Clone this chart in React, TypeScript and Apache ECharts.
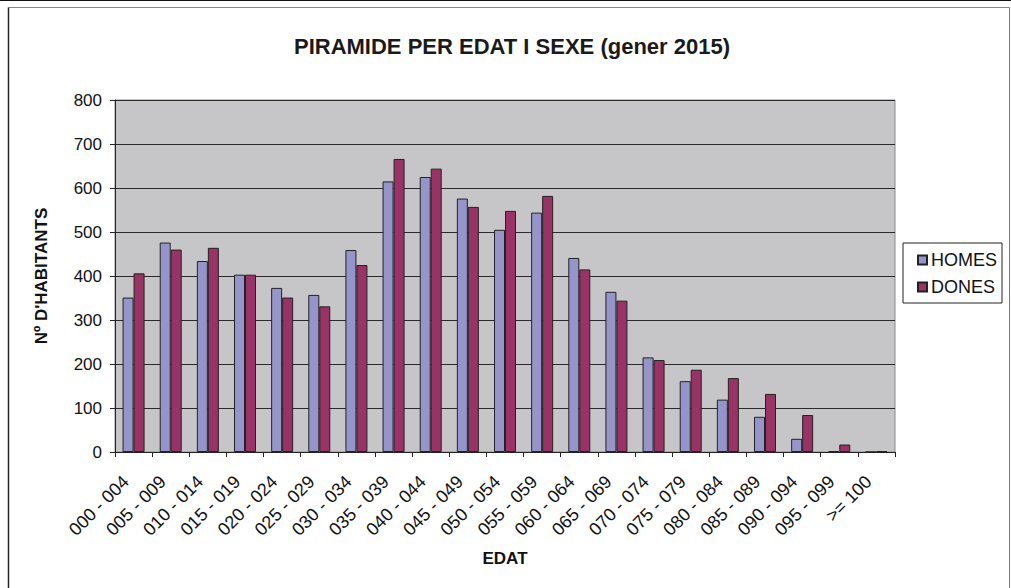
import React, { useEffect, useRef } from "react";
import * as echarts from "echarts";

const categories = [
  "000 - 004", "005 - 009", "010 - 014", "015 - 019", "020 - 024", "025 - 029",
  "030 - 034", "035 - 039", "040 - 044", "045 - 049", "050 - 054", "055 - 059",
  "060 - 064", "065 - 069", "070 - 074", "075 - 079", "080 - 084", "085 - 089",
  "090 - 094", "095 - 099", ">= 100",
];
const homes = [351, 476, 434, 403, 373, 357, 459, 615, 625, 576, 505, 544, 441, 364, 215, 161, 119, 80, 30, 2, 0];
const dones = [406, 460, 464, 403, 351, 331, 425, 666, 644, 557, 548, 582, 415, 344, 209, 187, 168, 132, 84, 17, 2];

const FONT = "'Liberation Sans', Arial, sans-serif";

export default function App() {
  const ref = useRef<HTMLDivElement>(null);
  useEffect(() => {
    if (!ref.current) return;
    const chart = echarts.init(ref.current, undefined, { renderer: "svg" });
    chart.setOption({
      animation: false,
      backgroundColor: "#ffffff",
      textStyle: { fontFamily: FONT },
      title: {
        text: "PIRAMIDE PER EDAT I SEXE (gener 2015)",
        left: 507,
        textAlign: "center",
        top: 30,
        textStyle: { fontFamily: FONT, fontSize: 22, fontWeight: "bold", color: "#1a1a1a" },
      },
      legend: {
        orient: "vertical",
        left: 903,
        top: 243,
        padding: [8, 5, 7, 14],
        itemGap: 9,
        itemWidth: 9,
        itemHeight: 9,
        borderColor: "#222",
        borderWidth: 1,
        backgroundColor: "#fff",
        textStyle: { fontFamily: FONT, fontSize: 18, color: "#111", padding: [0, 0, 0, -1] },
        data: [
          { name: "HOMES", icon: "rect" },
          { name: "DONES", icon: "rect" },
        ],
      },
      grid: {
        left: 115,
        top: 100,
        width: 780,
        height: 352,
        show: true,
        backgroundColor: "#c6c6c8",
        borderColor: "#8a8a8a",
        borderWidth: 1,
      },
      xAxis: {
        type: "category",
        data: categories,
        name: "EDAT",
        nameLocation: "middle",
        nameGap: 98,
        nameTextStyle: { fontFamily: FONT, fontSize: 17, fontWeight: "bold", color: "#111" },
        axisLine: { show: true, lineStyle: { color: "#222", width: 1 } },
        axisTick: { show: true, interval: 0, length: 5, inside: false, lineStyle: { color: "#222" } },
        axisLabel: {
          interval: 0,
          rotate: 45,
          margin: 19,
          padding: [0, 11, 0, 0],
          fontFamily: FONT,
          fontSize: 18,
          color: "#111",
        },
      },
      yAxis: {
        type: "value",
        min: 0,
        max: 800,
        interval: 100,
        name: "Nº D'HABITANTS",
        nameLocation: "middle",
        nameGap: 65,
        nameRotate: 90,
        nameTextStyle: { fontFamily: FONT, fontSize: 17, fontWeight: "bold", color: "#111" },
        axisLine: { show: true, lineStyle: { color: "#222", width: 1 } },
        axisTick: { show: true, length: 5, inside: false, lineStyle: { color: "#222" } },
        axisLabel: { fontFamily: FONT, fontSize: 17, color: "#111", margin: 13 },
        splitLine: { show: true, lineStyle: { color: "#2a2a2a", width: 1 } },
      },
      series: [
        {
          name: "HOMES",
          type: "bar",
          data: homes,
          barWidth: 11,
          barGap: "0%",
          itemStyle: { color: "#9595c9", borderColor: "#222", borderWidth: 1 },
        },
        {
          name: "DONES",
          type: "bar",
          data: dones,
          barWidth: 11,
          barGap: "0%",
          itemStyle: { color: "#993366", borderColor: "#222", borderWidth: 1 },
        },
      ],
      graphic: [
        { type: "line", shape: { x1: 0, y1: 0.5, x2: 1011, y2: 0.5 }, style: { stroke: "#111", lineWidth: 1 } },
        { type: "line", shape: { x1: 8.5, y1: 7.5, x2: 1009.5, y2: 7.5 }, style: { stroke: "#888", lineWidth: 1 } },
        { type: "line", shape: { x1: 8.5, y1: 7.5, x2: 8.5, y2: 588 }, style: { stroke: "#222", lineWidth: 1.5 } },
        { type: "line", shape: { x1: 1009.5, y1: 7.5, x2: 1009.5, y2: 588 }, style: { stroke: "#777", lineWidth: 1 } },
      ],
    });
    return () => chart.dispose();
  }, []);
  return (
    <div
      ref={ref}
      style={{ position: "absolute", left: 0, top: 0, width: 1011, height: 588 }}
    />
  );
}
